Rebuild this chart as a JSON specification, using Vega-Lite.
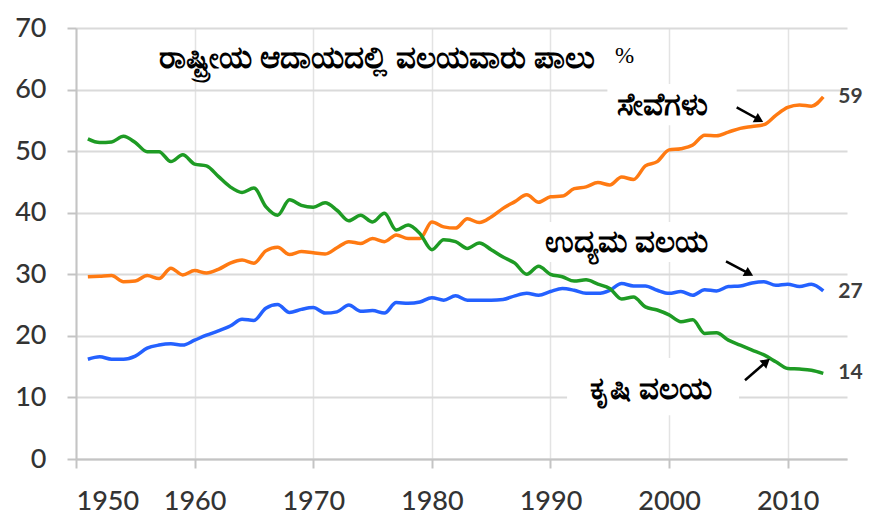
{
  "$schema": "https://vega.github.io/schema/vega-lite/v6.json",
  "width": 771,
  "height": 431,
  "autosize": "none",
  "padding": {"left": 76, "top": 28, "right": 43, "bottom": 72},
  "background": "white",
  "config": {"view": {"stroke": null}, "font": "Lato"},
  "datasets": {
    "shares": [
      {"year": 1951, "services": 29.6, "industry": 16.2, "agriculture": 52.0},
      {"year": 1952, "services": 29.7, "industry": 16.6, "agriculture": 51.4},
      {"year": 1953, "services": 29.8, "industry": 16.2, "agriculture": 51.5},
      {"year": 1954, "services": 28.8, "industry": 16.2, "agriculture": 52.4},
      {"year": 1955, "services": 28.9, "industry": 16.7, "agriculture": 51.4},
      {"year": 1956, "services": 29.8, "industry": 18.0, "agriculture": 49.9},
      {"year": 1957, "services": 29.3, "industry": 18.5, "agriculture": 49.9},
      {"year": 1958, "services": 31.0, "industry": 18.7, "agriculture": 48.3},
      {"year": 1959, "services": 29.9, "industry": 18.5, "agriculture": 49.4},
      {"year": 1960, "services": 30.6, "industry": 19.3, "agriculture": 47.9},
      {"year": 1961, "services": 30.2, "industry": 20.1, "agriculture": 47.6},
      {"year": 1962, "services": 30.8, "industry": 20.8, "agriculture": 45.9},
      {"year": 1963, "services": 31.8, "industry": 21.6, "agriculture": 44.2},
      {"year": 1964, "services": 32.3, "industry": 22.7, "agriculture": 43.3},
      {"year": 1965, "services": 31.8, "industry": 22.5, "agriculture": 44.0},
      {"year": 1966, "services": 33.8, "industry": 24.5, "agriculture": 41.0},
      {"year": 1967, "services": 34.4, "industry": 25.1, "agriculture": 39.6},
      {"year": 1968, "services": 33.2, "industry": 23.8, "agriculture": 42.1},
      {"year": 1969, "services": 33.7, "industry": 24.3, "agriculture": 41.2},
      {"year": 1970, "services": 33.5, "industry": 24.6, "agriculture": 40.9},
      {"year": 1971, "services": 33.3, "industry": 23.7, "agriculture": 41.6},
      {"year": 1972, "services": 34.3, "industry": 23.9, "agriculture": 40.4},
      {"year": 1973, "services": 35.3, "industry": 25.0, "agriculture": 38.7},
      {"year": 1974, "services": 35.0, "industry": 24.0, "agriculture": 39.6},
      {"year": 1975, "services": 35.8, "industry": 24.1, "agriculture": 38.5},
      {"year": 1976, "services": 35.3, "industry": 23.7, "agriculture": 39.9},
      {"year": 1977, "services": 36.4, "industry": 25.4, "agriculture": 37.2},
      {"year": 1978, "services": 35.8, "industry": 25.3, "agriculture": 38.0},
      {"year": 1979, "services": 35.8, "industry": 25.5, "agriculture": 36.6},
      {"year": 1980, "services": 38.5, "industry": 26.2, "agriculture": 34.0},
      {"year": 1981, "services": 37.7, "industry": 25.8, "agriculture": 35.6},
      {"year": 1982, "services": 37.5, "industry": 26.5, "agriculture": 35.3},
      {"year": 1983, "services": 39.0, "industry": 25.8, "agriculture": 34.2},
      {"year": 1984, "services": 38.4, "industry": 25.8, "agriculture": 35.1},
      {"year": 1985, "services": 39.3, "industry": 25.8, "agriculture": 34.0},
      {"year": 1986, "services": 40.7, "industry": 25.9, "agriculture": 32.8},
      {"year": 1987, "services": 41.8, "industry": 26.5, "agriculture": 31.8},
      {"year": 1988, "services": 42.9, "industry": 26.9, "agriculture": 30.0},
      {"year": 1989, "services": 41.7, "industry": 26.6, "agriculture": 31.3},
      {"year": 1990, "services": 42.6, "industry": 27.2, "agriculture": 30.0},
      {"year": 1991, "services": 42.7, "industry": 27.7, "agriculture": 29.6},
      {"year": 1992, "services": 43.9, "industry": 27.4, "agriculture": 28.9},
      {"year": 1993, "services": 44.2, "industry": 26.9, "agriculture": 29.1},
      {"year": 1994, "services": 44.9, "industry": 26.9, "agriculture": 28.4},
      {"year": 1995, "services": 44.5, "industry": 27.4, "agriculture": 27.7},
      {"year": 1996, "services": 45.8, "industry": 28.5, "agriculture": 26.0},
      {"year": 1997, "services": 45.4, "industry": 28.1, "agriculture": 26.3},
      {"year": 1998, "services": 47.6, "industry": 28.1, "agriculture": 24.7},
      {"year": 1999, "services": 48.3, "industry": 27.4, "agriculture": 24.2},
      {"year": 2000, "services": 50.2, "industry": 26.9, "agriculture": 23.4},
      {"year": 2001, "services": 50.4, "industry": 27.2, "agriculture": 22.3},
      {"year": 2002, "services": 51.0, "industry": 26.6, "agriculture": 22.6},
      {"year": 2003, "services": 52.6, "industry": 27.5, "agriculture": 20.4},
      {"year": 2004, "services": 52.5, "industry": 27.3, "agriculture": 20.5},
      {"year": 2005, "services": 53.1, "industry": 28.0, "agriculture": 19.3},
      {"year": 2006, "services": 53.7, "industry": 28.1, "agriculture": 18.5},
      {"year": 2007, "services": 54.0, "industry": 28.6, "agriculture": 17.7},
      {"year": 2008, "services": 54.3, "industry": 28.8, "agriculture": 16.9},
      {"year": 2009, "services": 55.8, "industry": 28.2, "agriculture": 15.8},
      {"year": 2010, "services": 57.1, "industry": 28.4, "agriculture": 14.7},
      {"year": 2011, "services": 57.5, "industry": 28.0, "agriculture": 14.6},
      {"year": 2012, "services": 57.3, "industry": 28.4, "agriculture": 14.4},
      {"year": 2013, "services": 58.8, "industry": 27.3, "agriculture": 13.9}
    ],
    "ends": [
      {"year": 2013, "value": 58.8, "label": "59"},
      {"year": 2013, "value": 27.1, "label": "27"},
      {"year": 2013, "value": 13.9, "label": "14"}
    ],
    "boxes": [
      {"x1": 1994.8, "x2": 2005.7, "y1": 54.2, "y2": 60.9},
      {"x1": 1991.4, "x2": 2005.9, "y1": 7.1, "y2": 16.4},
      {"x1": 1989.4, "x2": 2004.9, "y1": 32.0, "y2": 38.5}
    ],
    "labels": [
      {"year": 1975.4, "value": 65.0, "text": "ರಾಷ್ಟ್ರೀಯ ಆದಾಯದಲ್ಲಿ ವಲಯವಾರು ಪಾಲು"},
      {"year": 1999.45, "value": 57.3, "text": "ಸೇವೆಗಳು"},
      {"year": 1996.4, "value": 35.1, "text": "ಉದ್ಯಮ ವಲಯ"},
      {"year": 1998.5, "value": 11.2, "text": "ಕೃಷಿ ವಲಯ"}
    ],
    "percent": [
      {"year": 1996.25, "value": 65.4, "text": "%"}
    ],
    "arrows": [
      {"id": "s", "x1": 2005.7, "y1": 57.1, "x2": 2007.6, "y2": 55.1},
      {"id": "i", "x1": 2004.8, "y1": 32.1, "x2": 2006.75, "y2": 30.1},
      {"id": "a", "x1": 2006.4, "y1": 12.8, "x2": 2008.2, "y2": 15.8}
    ]
  },
  "layer": [
    {
      "data": {"name": "boxes"},
      "mark": {"type": "rect", "color": "white"},
      "encoding": {
        "x": {"field": "x1", "type": "quantitative", "scale": {"domain": [1950, 2015], "nice": false, "zero": false}},
        "x2": {"field": "x2"},
        "y": {"field": "y1", "type": "quantitative", "scale": {"domain": [0, 70], "nice": false}},
        "y2": {"field": "y2"}
      }
    },
    {
      "data": {"name": "shares"},
      "transform": [{"fold": ["services", "industry", "agriculture"], "as": ["sector", "value"]}],
      "mark": {"type": "line", "interpolate": "monotone", "strokeWidth": 3.5},
      "encoding": {
        "x": {
          "field": "year", "type": "quantitative",
          "scale": {"domain": [1950, 2015], "nice": false, "zero": false},
          "axis": {
            "title": null, "values": [1950, 1960, 1970, 1980, 1990, 2000, 2010], "format": "d",
            "grid": true, "gridColor": "#e3e3e3", "gridWidth": 1.5,
            "domainColor": "#c4c4c4", "domainWidth": 2,
            "tickColor": "#c4c4c4", "tickWidth": 2, "tickSize": 9,
            "labelFontSize": 27, "labelColor": "#333333", "labelPadding": 20, "labelFont": "Lato", "labelFontWeight": 500
          }
        },
        "y": {
          "field": "value", "type": "quantitative",
          "scale": {"domain": [0, 70], "nice": false},
          "axis": {
            "title": null, "values": [0, 10, 20, 30, 40, 50, 60, 70],
            "grid": true, "gridColor": "#dadada", "gridWidth": 2,
            "domainColor": "#c4c4c4", "domainWidth": 2,
            "tickColor": "#c4c4c4", "tickWidth": 2, "tickSize": 9,
            "labelFontSize": 27, "labelColor": "#333333", "labelPadding": 21, "labelFont": "Lato", "labelFontWeight": 500
          }
        },
        "color": {
          "field": "sector", "type": "nominal",
          "scale": {"domain": ["services", "industry", "agriculture"], "range": ["#FF7A12", "#2461FF", "#1E9B24"]},
          "legend": null
        },
        "detail": {"field": "sector"}
      }
    },
    {
      "data": {"name": "ends"},
      "mark": {"type": "text", "align": "left", "baseline": "middle", "dx": 15, "fontSize": 21, "fontWeight": "bold", "color": "#3d3d3d", "font": "Lato"},
      "encoding": {
        "x": {"field": "year", "type": "quantitative"},
        "y": {"field": "value", "type": "quantitative"},
        "text": {"field": "label"}
      }
    },
    {
      "data": {"name": "labels"},
      "mark": {"type": "text", "align": "center", "baseline": "middle", "fontSize": 31, "fontWeight": "bold", "color": "black", "font": "Noto Sans"},
      "encoding": {
        "x": {"field": "year", "type": "quantitative"},
        "y": {"field": "value", "type": "quantitative"},
        "text": {"field": "text"}
      }
    },
    {
      "data": {"name": "percent"},
      "mark": {"type": "text", "align": "center", "baseline": "middle", "fontSize": 23, "color": "black", "font": "Liberation Serif"},
      "encoding": {
        "x": {"field": "year", "type": "quantitative"},
        "y": {"field": "value", "type": "quantitative"},
        "text": {"field": "text"}
      }
    },
    {
      "data": {"name": "arrows"},
      "mark": {"type": "rule", "color": "black", "strokeWidth": 2.5},
      "encoding": {
        "x": {"field": "x1", "type": "quantitative"},
        "y": {"field": "y1", "type": "quantitative"},
        "x2": {"field": "x2"},
        "y2": {"field": "y2"}
      }
    },
    {
      "data": {"name": "arrows"},
      "transform": [{"filter": "datum.id != 'a'"}],
      "mark": {"type": "point", "shape": "triangle-right", "filled": true, "color": "black", "size": 110, "angle": 29, "opacity": 1},
      "encoding": {
        "x": {"field": "x2", "type": "quantitative"},
        "y": {"field": "y2", "type": "quantitative"}
      }
    },
    {
      "data": {"name": "arrows"},
      "transform": [{"filter": "datum.id == 'a'"}],
      "mark": {"type": "point", "shape": "triangle-right", "filled": true, "color": "black", "size": 110, "angle": 320, "opacity": 1},
      "encoding": {
        "x": {"field": "x2", "type": "quantitative"},
        "y": {"field": "y2", "type": "quantitative"}
      }
    }
  ]
}
